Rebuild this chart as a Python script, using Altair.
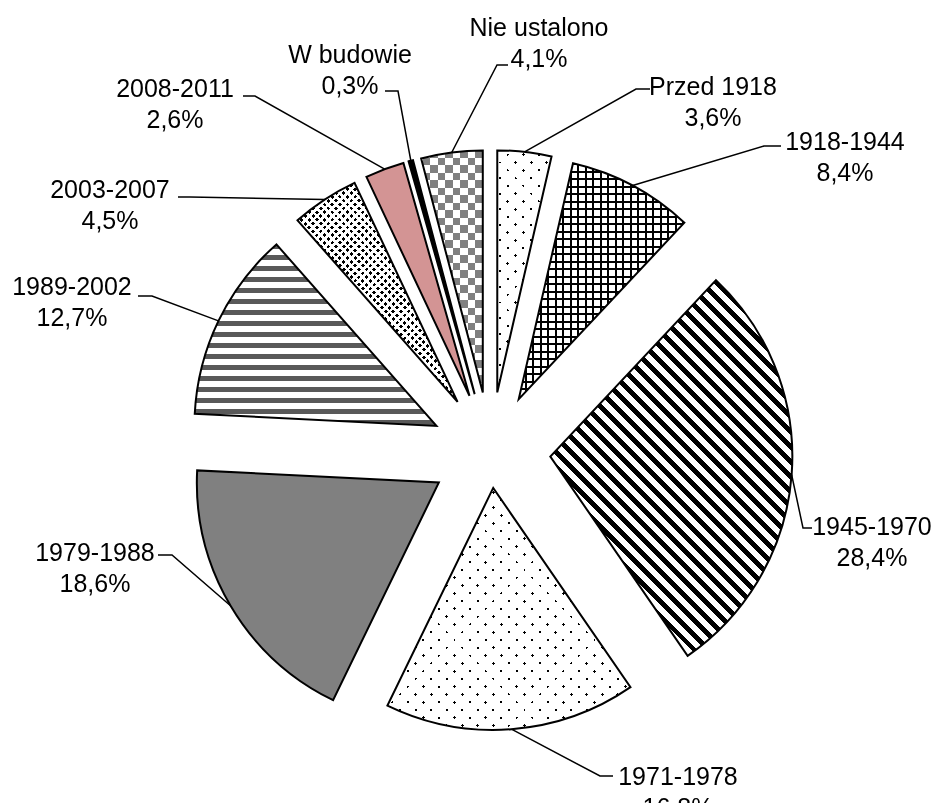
import math
import altair as alt
import pandas as pd

# ---------------- data ----------------
categories = ["Przed 1918", "1918-1944", "1945-1970", "1971-1978", "1979-1988",
              "1989-2002", "2003-2007", "2008-2011", "W budowie", "Nie ustalono"]
shares = [3.6, 8.4, 28.4, 16.8, 18.6, 12.7, 4.5, 2.6, 0.3, 4.1]
pct_text = ["3,6%", "8,4%", "28,4%", "16,8%", "18,6%", "12,7%", "4,5%", "2,6%", "0,3%", "4,1%"]

# ---------------- layout / style ----------------
W, H = 924, 795
MARGIN = 8
CENTER = (490.5, 452.0)          # pie centre on the page (px)
R = 242                          # outer radius (px)
explode = [60, 60, 60, 36, 60, 60, 60, 60, 60, 60]   # slice explosion (px)

# label placement (page px): text centre x / first baseline, leader knee, leader end x
label_xy = [(713, 95), (845, 150), (872, 535), (678, 785), (95, 561),
            (72, 295), (110, 198), (175, 97), (350, 63), (539, 36)]
knee_xy = [(636, 89), (764, 146), (803, 528), (600, 776), (172, 555),
           (152, 296), (190, 197), (255, 96), (398, 91), (497, 65)]
end_x = [650, 781, 812, 613, 158, 138, 178, 243, 385, 508]
LINE_GAP = 30.5
FONT = "Liberation Sans"
FONT_SIZE = 25

slice_style = [
    ("dots", 11.0, 2.0),            # Przed 1918
    ("grid", 7.5, 2.0),             # 1918-1944
    ("diag", 45, 10.6, 4.6),        # 1945-1970
    ("dots", 11.0, 2.0),            # 1971-1978
    ("solid", "#808080"),           # 1979-1988
    ("hstripes", 11.0, 5.0, "#595959"),  # 1989-2002
    ("dots", 5.4, 2.7),             # 2003-2007
    ("solid", "#d39494"),           # 2008-2011
    ("solid", "#000000"),           # W budowie
    ("checker", 7.5, "#808080"),    # Nie ustalono
]

TRANSP = "rgba(255,255,255,0)"


def stripes(w, h, alpha, period, on_w, on_c, off_c):
    a = math.radians(alpha)
    nx, ny = -math.sin(a), math.cos(a)
    corners = [(0, 0), (1, 0), (0, 1), (1, 1)]
    vals = [X * w * nx + Y * h * ny for X, Y in corners]
    vmin, vmax = min(vals), max(vals)
    X0, Y0 = corners[vals.index(vmin)]
    L = vmax - vmin
    k = L / ((w * nx) ** 2 + (h * ny) ** 2)
    gx, gy = k * w * nx, k * h * ny
    stops = []
    pos = 0.0
    while pos < L - 1e-9:
        e = min(pos + on_w, L)
        f = min(pos + period, L)
        stops += [(pos / L, on_c), (e / L, on_c)]
        if e < L:
            stops += [(e / L, off_c), (f / L, off_c)]
        pos += period
    return {"gradient": "linear", "x1": X0, "y1": Y0, "x2": X0 + gx, "y2": Y0 + gy,
            "stops": [{"offset": min(1.0, round(o, 6)), "color": c} for o, c in stops]}


def arc_bbox(a0, a1, r):
    pts = [(0.0, 0.0)]
    angs = [a0, a1] + [q * math.pi / 2 for q in range(5) if a0 < q * math.pi / 2 < a1]
    for a in angs:
        pts.append((r * math.sin(a), -r * math.cos(a)))
    xs = [p[0] for p in pts]
    ys = [p[1] for p in pts]
    return max(xs) - min(xs), max(ys) - min(ys)


def fills_for(style, w, h):
    kind = style[0]
    if kind == "solid":
        return [(style[1], None)]
    if kind == "dots":
        per, dw = style[1], style[2]
        return [("#ffffff", None),
                (stripes(w, h, 45, per, dw, "#000000", TRANSP), None),
                (stripes(w, h, 135, per, dw, TRANSP, "#ffffff"), None)]
    if kind == "grid":
        per, lw = style[1], style[2]
        return [("#ffffff", None),
                (stripes(w, h, 0, per, lw, "#000000", TRANSP), None),
                (stripes(w, h, 90, per, lw, "#000000", TRANSP), None)]
    if kind == "diag":
        ang, per, lw = style[1], style[2], style[3]
        return [(stripes(w, h, ang, per, lw, "#000000", "#ffffff"), None)]
    if kind == "hstripes":
        per, lw, col = style[1], style[2], style[3]
        return [(stripes(w, h, 0, per, lw, col, "#ffffff"), None)]
    if kind == "checker":
        c, col = style[1], style[2]
        return [(stripes(w, h, 0, 2 * c, c, "#000000", "#ffffff"), None),
                (stripes(w, h, 90, 2 * c, c, "#000000", "#ffffff"), "difference"),
                (col, "screen")]
    return [("#ffffff", None)]


# ---------------- derived tables ----------------
rows, lead_rows, text_rows = [], [], []
cum = 0.0
for i, (cat, v) in enumerate(zip(categories, shares)):
    s, e = cum, cum + v
    cum = e
    mid = math.radians((s + e) / 2 * 3.6)
    ox, oy = explode[i] * math.sin(mid), explode[i] * math.cos(mid)
    rows.append({"cat": cat, "start": s, "end": e, "ox": ox, "oy": oy})
    lead_rows.append({"cat": cat, "k": 0, "lx": ox + R * math.sin(mid), "ly": oy + R * math.cos(mid)})
    lead_rows.append({"cat": cat, "k": 1, "lx": knee_xy[i][0] - CENTER[0], "ly": CENTER[1] - knee_xy[i][1]})
    lead_rows.append({"cat": cat, "k": 2, "lx": end_x[i] - CENTER[0], "ly": CENTER[1] - knee_xy[i][1]})
    text_rows.append({"cat": cat, "tx": label_xy[i][0] - CENTER[0], "ty": CENTER[1] - label_xy[i][1], "txt": cat})
    text_rows.append({"cat": cat, "tx": label_xy[i][0] - CENTER[0],
                      "ty": CENTER[1] - label_xy[i][1] - LINE_GAP, "txt": pct_text[i]})

arc_df = pd.DataFrame(rows)
lead_df = pd.DataFrame(lead_rows)
text_df = pd.DataFrame(text_rows)

cxp, cyp = CENTER[0] - MARGIN, CENTER[1] - MARGIN
xscale = alt.Scale(domain=[-cxp, W - cxp], nice=False, zero=False)
yscale = alt.Scale(domain=[-(H - cyp), cyp], nice=False, zero=False)
tscale = alt.Scale(domain=[0, 100], range=[0, 2 * math.pi])

base = alt.Chart(arc_df).encode(
    theta=alt.Theta("start:Q", scale=tscale, stack=False),
    theta2=alt.Theta2("end:Q"),
    x=alt.X("ox:Q", scale=xscale, axis=None),
    y=alt.Y("oy:Q", scale=yscale, axis=None),
)

layers = []
for i, cat in enumerate(categories):
    w, h = arc_bbox(math.radians(rows[i]["start"] * 3.6), math.radians(rows[i]["end"] * 3.6), R)
    for fill, blend in fills_for(slice_style[i], w, h):
        kw = dict(radius=R, fill=fill, strokeWidth=0)
        if blend:
            kw["blend"] = blend
        layers.append(base.transform_filter(alt.FieldEqualPredicate(field="cat", equal=cat)).mark_arc(**kw))

outline = base.mark_arc(radius=R, fillOpacity=0, stroke="#000000", strokeWidth=2, strokeJoin="miter")
layers.append(outline)

leaders = alt.Chart(lead_df).mark_line(color="#000000", strokeWidth=1.5).encode(
    x=alt.X("lx:Q", scale=xscale, axis=None),
    y=alt.Y("ly:Q", scale=yscale, axis=None),
    detail="cat:N",
    order="k:Q",
)
texts = alt.Chart(text_df).mark_text(font=FONT, fontSize=FONT_SIZE, color="#000000",
                                     align="center", baseline="alphabetic").encode(
    x=alt.X("tx:Q", scale=xscale, axis=None),
    y=alt.Y("ty:Q", scale=yscale, axis=None),
    text="txt:N",
)
layers += [leaders, texts]

chart = alt.layer(*layers).properties(
    width=W, height=H, padding=0, autosize=alt.AutoSizeParams(type="none"), background="#ffffff"
).configure_view(strokeWidth=0)

chart.save("out.html", embed_options={"renderer": "svg", "actions": False})
